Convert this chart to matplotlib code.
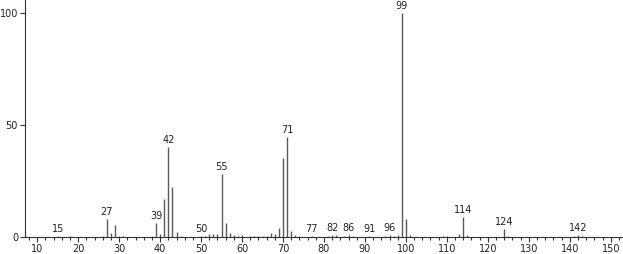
import matplotlib
matplotlib.use("Agg")
import matplotlib.pyplot as plt
from matplotlib.ticker import MultipleLocator

# m/z values and relative intensities
mz = [15, 18, 26, 27, 28, 29, 30, 31, 38, 39, 40, 41, 42, 43, 44, 45,
      50, 51, 52, 53, 54, 55, 56, 57, 58, 59, 60, 62, 63, 64, 65, 66,
      67, 68, 69, 70, 71, 72, 73, 74, 77, 81, 82, 83, 85, 86, 87, 91,
      95, 96, 97, 98, 99, 100, 101, 109, 110, 113, 114, 115, 124, 125,
      141, 142, 143]
intensity = [0.5, 0.6, 0.6, 7.9, 1.6, 5.2, 0.6, 0.6, 0.6, 6.2, 1.2, 17.0, 40.3, 22.3, 2.4, 0.6,
             0.5, 0.6, 1.2, 1.3, 1.2, 28.3, 6.4, 1.8, 0.8, 0.5, 0.9, 0.5, 0.5, 0.5, 0.6, 0.6,
             1.8, 1.5, 4.0, 35.3, 44.6, 2.8, 1.0, 0.5, 0.5, 0.6, 1.0, 0.7, 0.5, 0.8, 0.5, 0.5,
             0.5, 0.8, 0.5, 1.0, 100.0, 8.0, 1.0, 0.5, 0.6, 1.5, 8.8, 1.0, 3.6, 0.6,
             0.5, 1.0, 0.5]
labelled = [15, 27, 39, 42, 50, 55, 71, 77, 82, 86, 91, 96, 99, 114, 124, 142]

fig = plt.figure(figsize=(6.23, 2.54), dpi=100)
ax = fig.add_axes([0.0401, 0.0669, 0.9599, 0.9331])

ax.vlines(mz, 0, intensity, color="#5a5a5a", linewidth=1.0)

for m in labelled:
    h = intensity[mz.index(m)]
    ax.annotate(str(m), (m, h), xytext=(0, 1.5), textcoords="offset points",
                ha="center", va="bottom", fontsize=7, color="#222222")

ax.set_xlim(7, 153)
ax.set_ylim(0, 105.8)
ax.xaxis.set_major_locator(MultipleLocator(10))
ax.xaxis.set_minor_locator(MultipleLocator(2))
ax.set_yticks([0, 50, 100])

for side in ["top", "right"]:
    ax.spines[side].set_visible(False)
for side in ["left", "bottom"]:
    ax.spines[side].set_color("#333333")
    ax.spines[side].set_linewidth(0.8)

ax.tick_params(axis="both", which="major", length=3.5, width=0.8, color="#333333",
               labelsize=7, pad=1.5, labelcolor="#222222")
ax.tick_params(axis="x", which="minor", length=2.5, width=0.8, color="#333333")

fig.savefig("out.png", dpi=100)
